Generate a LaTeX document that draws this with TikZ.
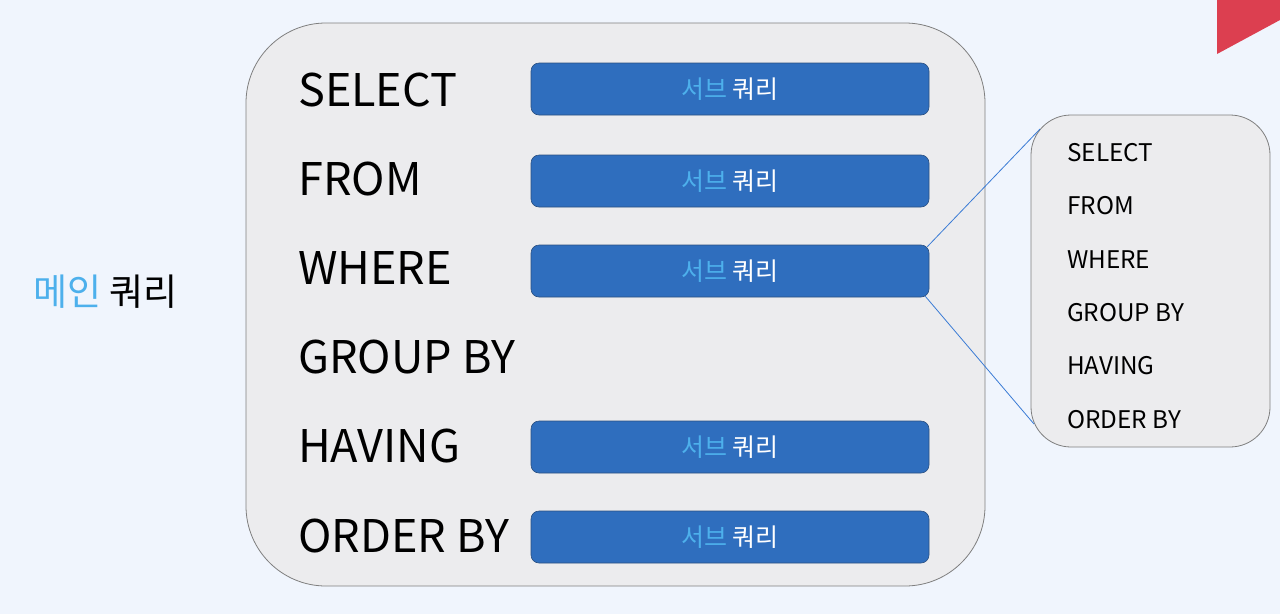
\documentclass[tikz,border=0pt]{standalone}
\usepackage{fontspec}
\setmainfont{Noto Sans CJK KR}
\definecolor{bg}{HTML}{F0F5FD}
\definecolor{boxfill}{HTML}{ECECEE}
\definecolor{boxline}{HTML}{7F7F7F}
\definecolor{subfill}{HTML}{2F6EBE}
\definecolor{subline}{HTML}{2A4F80}
\definecolor{lightblue}{HTML}{4DB0EC}
\definecolor{conn}{HTML}{3A7BD5}
\definecolor{redtri}{HTML}{DC3F50}
\tikzset{
  mainbox/.style={draw=boxline, fill=boxfill, line width=0.8pt, rounded corners=80pt},
  sidebox/.style={draw=boxline, fill=boxfill, line width=0.8pt, rounded corners=40pt},
  subbox/.style={draw=subline, fill=subfill, line width=0.6pt, rounded corners=8pt, minimum width=398pt, minimum height=52pt, inner sep=0pt, font=\fontsize{25}{28}\selectfont, text=white},
  kw/.style={anchor=west, inner sep=0pt, font=\fontsize{45}{50}\selectfont},
  skw/.style={anchor=west, inner sep=0pt, font=\fontsize{24.3}{28}\selectfont},
  connline/.style={draw=conn, line width=0.8pt}
}
\begin{document}
\begin{tikzpicture}[x=1pt,y=-1pt]
\path[fill=bg] (0,0) rectangle (1280,614);
\useasboundingbox (0,0) rectangle (1280,614);
\fill[redtri] (1217,0) -- (1280,0) -- (1280,20) -- (1217,54) -- cycle;
\node[anchor=west, inner sep=0pt, font=\fontsize{37}{40}\selectfont] (mainlabel) at (33,292) {\textcolor{lightblue}{메인} 쿼리};
\path[mainbox] (246,23) rectangle (985,586);
\node[kw] (k1) at (298,90) {SELECT};
\node[kw] (k2) at (298,179) {FROM};
\node[kw] (k3) at (298,268) {WHERE};
\node[kw] (k4) at (298,357) {GROUP BY};
\node[kw] (k5) at (298,446) {HAVING};
\node[kw] (k6) at (298,536) {ORDER BY};
\node[subbox] (s1) at (730,89) {\textcolor{lightblue}{서브} 쿼리};
\node[subbox] (s2) at (730,181) {\textcolor{lightblue}{서브} 쿼리};
\node[subbox] (s3) at (730,271) {\textcolor{lightblue}{서브} 쿼리};
\node[subbox] (s5) at (730,447) {\textcolor{lightblue}{서브} 쿼리};
\node[subbox] (s6) at (730,537) {\textcolor{lightblue}{서브} 쿼리};
\path[sidebox] (1031,115) rectangle (1270,447);
\coordinate (sidetop) at (1040,129);
\coordinate (sidebot) at (1034,424);
\node[skw] (t1) at (1067,153) {SELECT};
\node[skw] (t2) at (1067,206) {FROM};
\node[skw] (t3) at (1067,260) {WHERE};
\node[skw] (t4) at (1067,313) {GROUP BY};
\node[skw] (t5) at (1067,366) {HAVING};
\node[skw] (t6) at (1067,420) {ORDER BY};
\draw[connline] ([xshift=-2pt,yshift=-2pt]s3.north east) -- (sidetop);
\draw[connline] ([xshift=-4pt,yshift=1pt]s3.south east) -- (sidebot);
\end{tikzpicture}
\end{document}
